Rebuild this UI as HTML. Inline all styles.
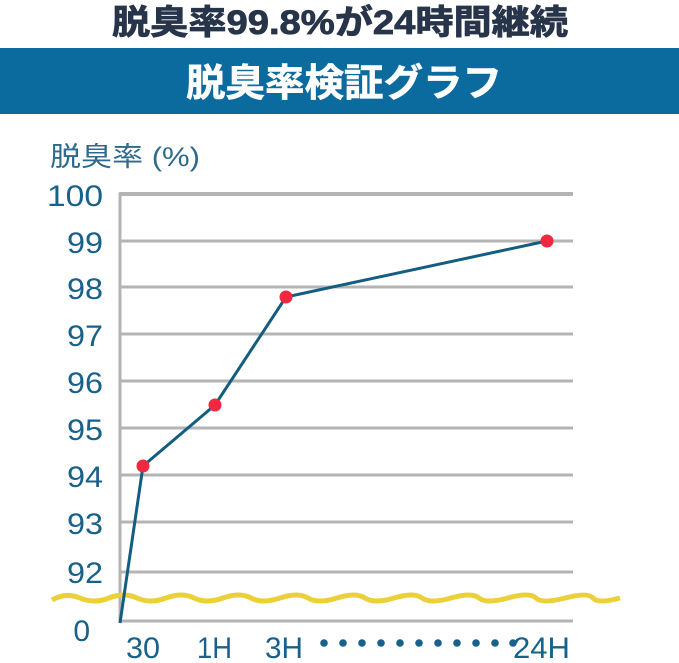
<!DOCTYPE html>
<html><head><meta charset="utf-8"><style>
body{margin:0;background:#fff;width:679px;height:663px;overflow:hidden}
svg{display:block}
</style></head><body>
<svg width="679" height="663" viewBox="0 0 679 663" xmlns="http://www.w3.org/2000/svg">
<text x="112" y="34" textLength="456" lengthAdjust="spacingAndGlyphs" font-family="'Liberation Sans','Noto Sans CJK JP',sans-serif" font-weight="bold" font-size="34" fill="#27344a" stroke="#27344a" stroke-width="0.8">脱臭率99.8%が24時間継続</text>
<rect x="0" y="48" width="679" height="66" fill="#0c6b9e"/>
<text x="186" y="96" textLength="316" lengthAdjust="spacingAndGlyphs" font-family="'Liberation Sans','Noto Sans CJK JP',sans-serif" font-weight="bold" font-size="38" fill="#fff" stroke="#fff" stroke-width="0.6">脱臭率検証グラフ</text>
<text x="50" y="166" textLength="150" lengthAdjust="spacingAndGlyphs" font-family="'Liberation Sans','Noto Sans CJK JP',sans-serif" font-size="27" fill="#2e6a8c">脱臭率 (%)</text>
<g stroke="#b4b4b4" stroke-width="3">
<line x1="119" y1="194" x2="573" y2="194" stroke-width="4"/>
<line x1="120" y1="241" x2="573" y2="241"/>
<line x1="120" y1="287" x2="573" y2="287"/>
<line x1="120" y1="334" x2="573" y2="334"/>
<line x1="120" y1="381" x2="573" y2="381"/>
<line x1="120" y1="428" x2="573" y2="428"/>
<line x1="120" y1="475" x2="573" y2="475"/>
<line x1="120" y1="522" x2="573" y2="522"/>
<line x1="120" y1="572" x2="573" y2="572"/>
<line x1="120" y1="621" x2="573" y2="621"/>
<line x1="120" y1="193" x2="120" y2="622"/>
</g>
<g font-family="'Liberation Sans Narrow','Liberation Sans',sans-serif" font-size="30" fill="#17618a" text-anchor="end" lengthAdjust="spacingAndGlyphs">
<text x="103" y="206" textLength="56" lengthAdjust="spacingAndGlyphs">100</text>
<text x="103" y="253" textLength="36" lengthAdjust="spacingAndGlyphs">99</text>
<text x="103" y="299" textLength="36" lengthAdjust="spacingAndGlyphs">98</text>
<text x="103" y="346" textLength="36" lengthAdjust="spacingAndGlyphs">97</text>
<text x="103" y="393" textLength="36" lengthAdjust="spacingAndGlyphs">96</text>
<text x="103" y="440" textLength="36" lengthAdjust="spacingAndGlyphs">95</text>
<text x="103" y="487" textLength="36" lengthAdjust="spacingAndGlyphs">94</text>
<text x="103" y="534" textLength="36" lengthAdjust="spacingAndGlyphs">93</text>
<text x="103" y="583" textLength="36" lengthAdjust="spacingAndGlyphs">92</text>
<text x="90" y="641">0</text>
</g>
<g font-family="'Liberation Sans Narrow','Liberation Sans',sans-serif" font-size="30" fill="#17618a">
<text x="126" y="658" textLength="34" lengthAdjust="spacingAndGlyphs">30</text>
<text x="197" y="658" textLength="35" lengthAdjust="spacingAndGlyphs">1H</text>
<text x="265" y="658" textLength="38" lengthAdjust="spacingAndGlyphs">3H</text>
<text x="513" y="658" textLength="57" lengthAdjust="spacingAndGlyphs">24H</text>
</g>
<g fill="#17618a">
<circle cx="324" cy="643" r="3.8"/><circle cx="343" cy="643" r="3.8"/><circle cx="362" cy="643" r="3.8"/><circle cx="381" cy="643" r="3.8"/><circle cx="400" cy="643" r="3.8"/><circle cx="419" cy="643" r="3.8"/><circle cx="438" cy="643" r="3.8"/><circle cx="457" cy="643" r="3.8"/><circle cx="476" cy="643" r="3.8"/><circle cx="495" cy="643" r="3.8"/><circle cx="513" cy="643" r="3.8"/>
</g>
<path d="M52 600 Q66 592 80 598 T109 598 T137 598 T166 598 T194 598 T223 598 T251 598 T280 598 T308 598 T337 598 T365 598 T394 598 T422 598 T451 598 T479 598 T508 598 T536 598 T565 598 T593 598 T620 598" fill="none" stroke="#ecd03a" stroke-width="5"/>
<polyline points="120,623 143,466 215,405 286,297 547,241" fill="none" stroke="#135e80" stroke-width="3"/>
<g fill="#f02840">
<circle cx="143" cy="466" r="6.5"/><circle cx="215" cy="405" r="6.5"/><circle cx="286" cy="297" r="6.5"/><circle cx="547" cy="241" r="6.5"/>
</g>
</svg>
</body></html>
